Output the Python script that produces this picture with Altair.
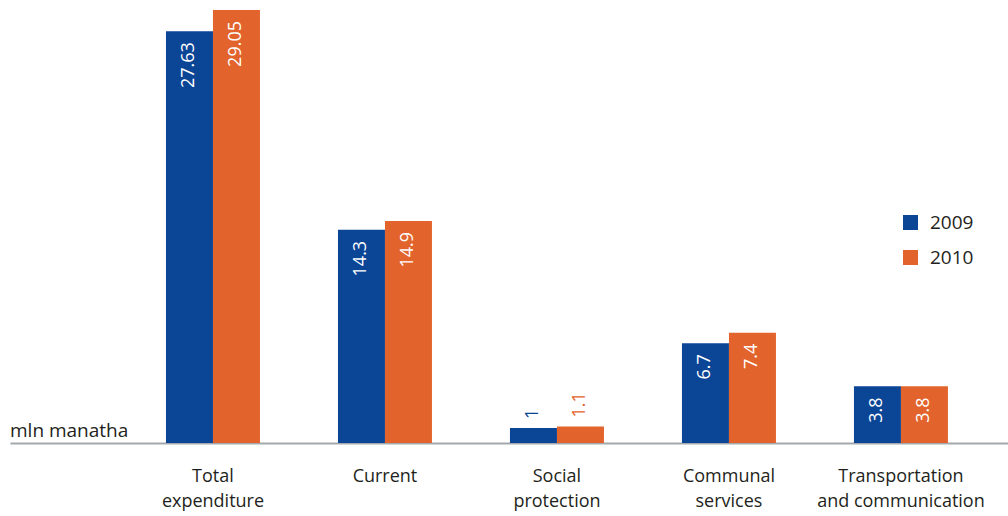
import altair as alt
import pandas as pd

# ---- data ----
categories = ["Total|expenditure", "Current", "Social|protection",
              "Communal|services", "Transportation|and communication"]
years = ["2009", "2010"]
values_2009 = [27.63, 14.3, 1, 6.7, 3.8]
values_2010 = [29.05, 14.9, 1.1, 7.4, 3.8]
colors = ["#0b4596", "#e2632c"]
unit_label = ["mln manatha"]

FONT = "Open Sans"

rows = []
for i, cat in enumerate(categories):
    for yr, vals in zip(years, [values_2009, values_2010]):
        v = vals[i]
        rows.append({"category": cat, "year": yr, "value": v,
                     "label": f"{v:g}", "inside": bool(v >= 2)})
df = pd.DataFrame(rows)

x_enc = alt.X(
    "category:N", sort=categories,
    scale=alt.Scale(paddingInner=0.4535, paddingOuter=0.628, align=0.722),
    axis=alt.Axis(title=None, labelExpr="split(datum.label, '|')", labelAngle=0,
                  ticks=False, domainColor="#a3a9ac", domainWidth=2,
                  labelFont=FONT, labelFontSize=18, labelColor="#231f20",
                  labelPadding=24, labelLineHeight=25, labelLimit=400),
)
xoff = alt.XOffset("year:N", sort=years, scale=alt.Scale(paddingInner=0, paddingOuter=0))
y_enc = alt.Y("value:Q", scale=alt.Scale(domain=[0, 29.72], nice=False, zero=True), axis=None)
color_scale = alt.Scale(domain=years, range=colors)

base = alt.Chart(df)

bars = base.mark_bar().encode(
    x=x_enc, xOffset=xoff, y=y_enc,
    color=alt.Color("year:N", scale=color_scale, legend=alt.Legend(
        title=None, orient="none", legendX=891, legendY=213,
        symbolType="square", symbolSize=225, symbolStrokeWidth=0,
        labelFont=FONT, labelFontSize=19, labelColor="#231f20",
        labelOffset=10, rowPadding=15)),
)

inside = base.transform_filter("datum.inside").mark_text(
    angle=270, align="right", baseline="middle", dx=-11,
    color="white", font=FONT, fontSize=18,
).encode(x=x_enc, xOffset=xoff, y=y_enc, text="label:N")

outside = base.transform_filter("!datum.inside").mark_text(
    angle=270, align="left", baseline="middle", dx=9,
    font=FONT, fontSize=18,
).encode(x=x_enc, xOffset=xoff, y=y_enc, text="label:N",
         color=alt.Color("year:N", scale=color_scale, legend=None))

unit = alt.Chart(pd.DataFrame({"t": unit_label})).mark_text(
    align="left", baseline="alphabetic", font=FONT, fontSize=19, color="#231f20",
).encode(x=alt.value(0), y=alt.value(437), text="t:N")

chart = alt.layer(bars, inside, outside, unit).properties(
    width=998, height=443,
    padding={"left": 10, "top": 0, "right": 0, "bottom": 73},
    autosize="none",
).configure_view(stroke=None)

chart.save("out.html", embed_options={"renderer": "svg", "actions": False})
